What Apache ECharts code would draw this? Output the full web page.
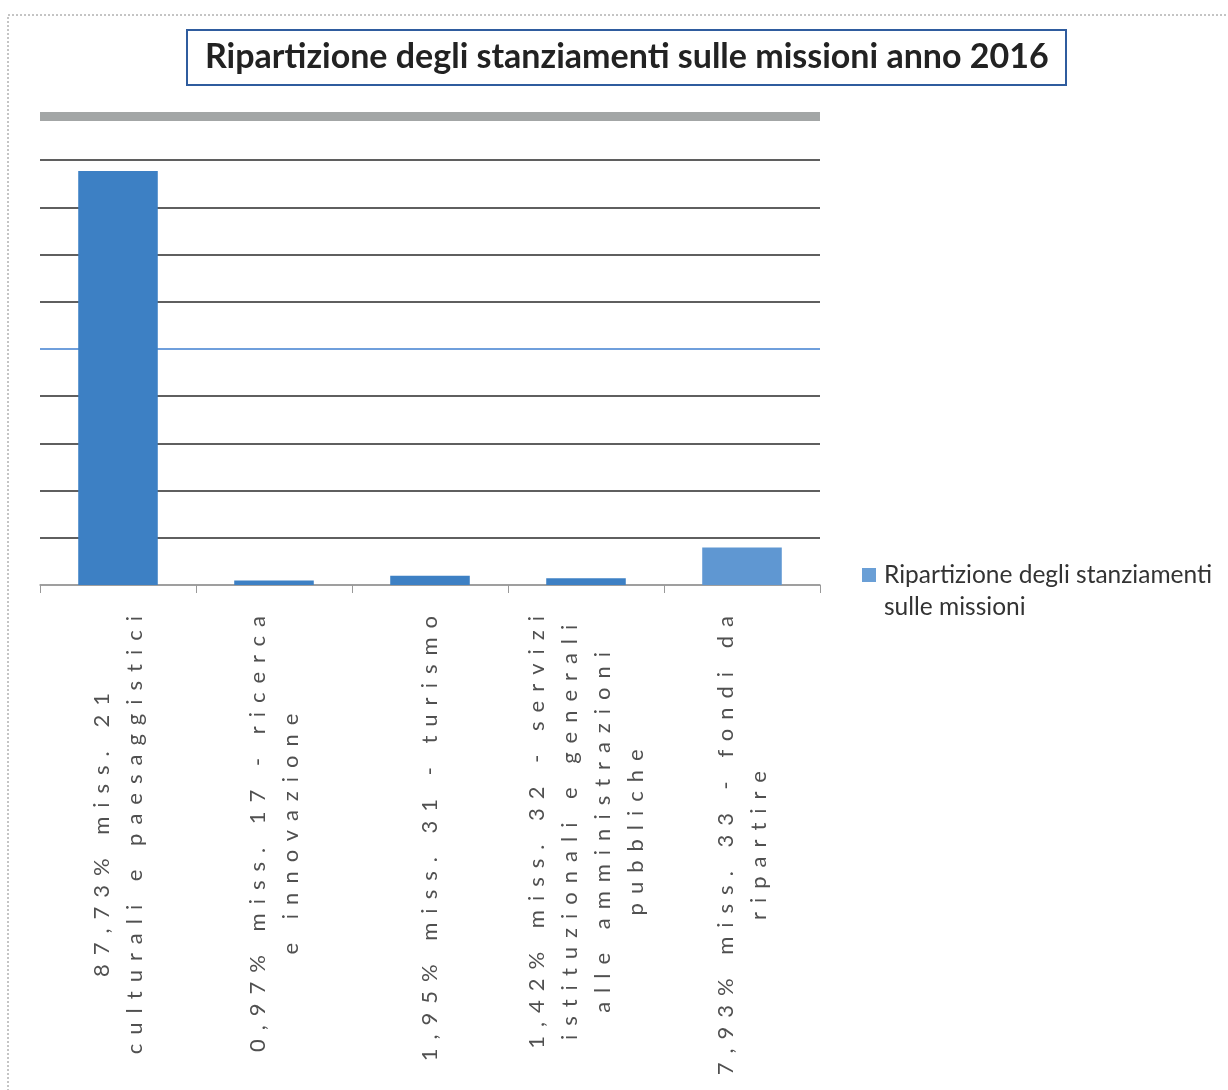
<!DOCTYPE html>
<html>
<head>
<meta charset="utf-8">
<script src="https://cdn.jsdelivr.net/npm/echarts@6/dist/echarts.min.js"></script>
<style>
html,body{margin:0;padding:0;background:#fff;}
#chart{width:1228px;height:1090px;}
</style>
</head>
<body>
<div id="chart"></div>
<script>
// ---- data ----
const titleText = 'Ripartizione degli stanziamenti sulle missioni anno 2016';
const seriesName = 'Ripartizione degli stanziamenti sulle missioni';
const legendLines = ['Ripartizione degli stanziamenti', 'sulle missioni'];
const categoryLines = [
  ['87,73% miss. 21', 'culturali e paesaggistici'],
  ['0,97% miss. 17 - ricerca', 'e innovazione'],
  ['1,95% miss. 31 - turismo'],
  ['1,42% miss. 32 - servizi', 'istituzionali e generali', 'alle amministrazioni', 'pubbliche'],
  ['7,93% miss. 33 - fondi da', 'ripartire']
];
const values = [87.73, 0.97, 1.95, 1.42, 7.93];

// letter-spaced axis labels (only the 22px label font)
(function(){
  const proto = CanvasRenderingContext2D.prototype;
  if (!('letterSpacing' in proto)) return;
  ['fillText','strokeText','measureText'].forEach(function(fn){
    const orig = proto[fn];
    proto[fn] = function(){
      this.letterSpacing = /(^|\s)22px\s/.test(this.font) ? '9px' : '0px';
      return orig.apply(this, arguments);
    };
  });
})();

const categories = categoryLines.map(l => l.join(' '));
const gridColor = '#2a2a2a';

const chart = echarts.init(document.getElementById('chart'));
chart.setOption({
  backgroundColor: '#ffffff',
  animation: false,
  title: {
    text: titleText,
    left: 187,
    top: 30,
    padding: [10, 18, 11, 18],
    borderColor: '#2f5c9e',
    borderWidth: 2,
    textStyle: {fontFamily: 'Lato', fontWeight: 'bold', fontSize: 34, color: '#222'}
  },
  graphic: [
    {type: 'rect', silent: true, shape: {x: 8, y: 15, width: 1240, height: 1100},
     style: {fill: 'none', stroke: '#8a8a8a', lineWidth: 1, lineDash: [2, 2]}},
    {type: 'rect', silent: true, shape: {x: 40, y: 112, width: 780, height: 9},
     style: {fill: '#a3a6a6'}}
  ],
  legend: {
    left: 857,
    top: 522,
    icon: 'rect',
    itemWidth: 14,
    itemHeight: 14,
    itemGap: 6,
    itemStyle: {color: '#6a9fd6'},
    formatter: () => legendLines.map(l => '{a|' + l + '}').join('\n'),
    textStyle: {
      fontFamily: 'Lato', fontSize: 24.5, color: '#333', lineHeight: 32, padding: [32, 0, 0, 3],
      rich: {a: {fontFamily: 'Lato', fontSize: 24.5, color: '#333', lineHeight: 32}}
    }
  },
  grid: {left: 40, right: 408, top: 113, bottom: 505},
  xAxis: {
    type: 'category',
    data: categories,
    axisLine: {lineStyle: {color: '#999', width: 1.5}},
    axisTick: {show: true, length: 8, lineStyle: {color: '#999'}},
    axisLabel: {
      interval: 0,
      rotate: 90,
      margin: 22,
      color: '#505050',
      fontFamily: 'Lato',
      fontSize: 22,
      lineHeight: 33,
      formatter: function(v, i){
        return categoryLines[i].map(l => '{c|' + l + '}').join('\n');
      },
      rich: {c: {align: 'center', fontFamily: 'Lato', fontSize: 22, lineHeight: 33, color: '#505050'}}
    }
  },
  yAxis: {
    type: 'value',
    min: 0,
    max: 100,
    interval: 10,
    axisLabel: {show: false},
    axisLine: {show: false},
    axisTick: {show: false},
    splitLine: {lineStyle: {
      color: ['#999', gridColor, gridColor, gridColor, gridColor, '#3f7fd0', gridColor, gridColor, gridColor, gridColor, '#a3a6a6'],
      width: 1.5
    }}
  },
  series: [{
    name: seriesName,
    type: 'bar',
    barWidth: '51%',
    data: values.map((v, i) => i === 4 ? {value: v, itemStyle: {color: '#5f97d2'}} : v),
    itemStyle: {color: '#3d80c4'}
  }]
});
</script>
</body>
</html>
